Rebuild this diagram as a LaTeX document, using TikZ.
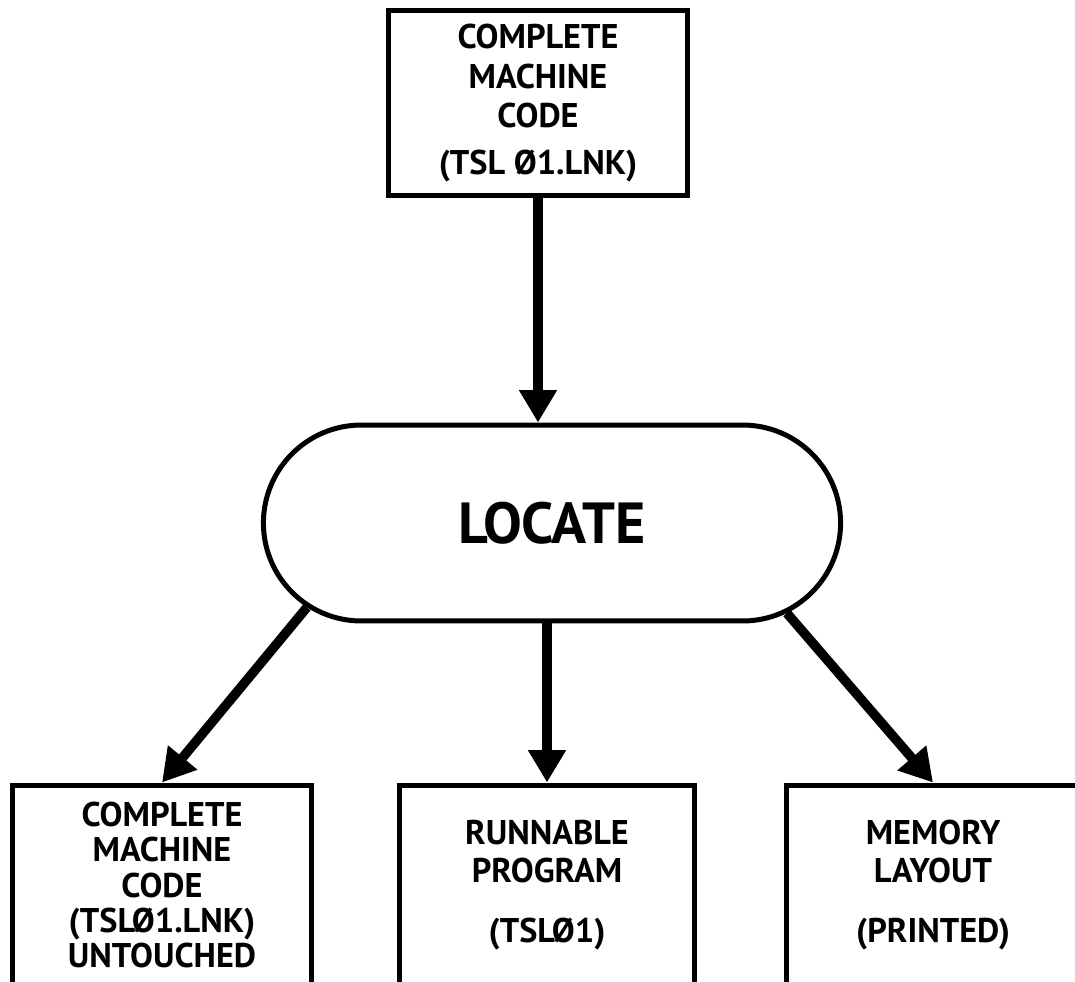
\documentclass[tikz,border=0pt]{standalone}
\usepackage{fontspec}
\setmainfont{PT Sans}
\usetikzlibrary{arrows.meta,shapes.misc}

\begin{document}
\begin{tikzpicture}[x=0.02cm, y=-0.02cm,
    box/.style={shape=rectangle, draw, line width=0.1cm, align=center, inner sep=0pt,
      font=\bfseries\fontsize{19.5}{22}\selectfont},
    flow/.style={line width=0.19cm, -{Triangle[length=0.65cm,width=0.72cm]}}]
    \useasboundingbox (0,0) rectangle (1075,981);
    \clip (0,0) rectangle (1075,981);

    \node at (538,103) (lnk) [box, minimum width=6cm, minimum height=3.72cm,
      font=\bfseries\fontsize{19.5}{22.7}\selectfont] {COMPLETE\\MACHINE\\CODE\\[4pt](TSL Ø1.LNK)};
    \node at (552,523) (locate) [shape=rounded rectangle, draw, line width=0.1cm,
      minimum width=11.78cm, minimum height=3.92cm, font=\bfseries\fontsize{33}{40}\selectfont] {LOCATE};
    \node at (162,885) (untouched) [box, minimum width=6cm, minimum height=4cm,
      font=\bfseries\fontsize{19.5}{20}\selectfont]
      {COMPLETE\\MACHINE\\CODE\\(TSLØ1.LNK)\\UNTOUCHED};
    \node at (547,885) (runnable) [box, minimum width=5.9cm, minimum height=4cm]
      {RUNNABLE\\PROGRAM\\[0.42cm](TSLØ1)};
    \node at (933,885) (layout) [box, minimum width=5.86cm, minimum height=4cm]
      {MEMORY\\LAYOUT\\[0.42cm](PRINTED)};

    \draw[flow] (lnk.south) -- (lnk.south |- locate.north);
    \draw[flow] (locate.199) -- (untouched.north);
    \draw[flow] (runnable.north |- locate.south) -- (runnable.north);
    \draw[flow] (locate.-21) -- (layout.north);
\end{tikzpicture}
\end{document}
